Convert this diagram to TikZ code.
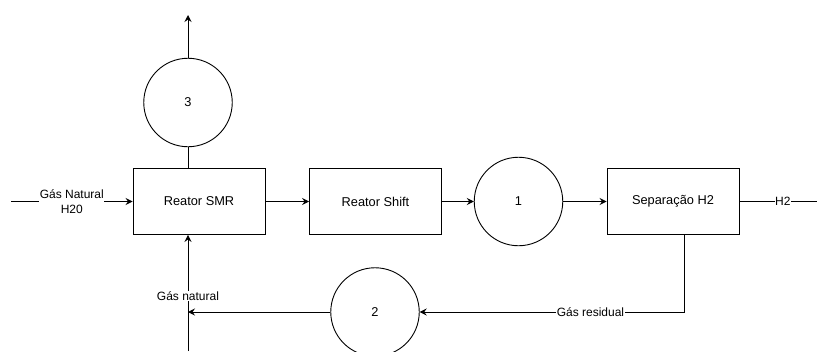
\documentclass[tikz,border=0pt]{standalone}
\usepackage{fontspec}
\setmainfont{Liberation Sans}
\usetikzlibrary{arrows.meta}
\begin{document}
\begin{tikzpicture}[x=1pt,y=-1pt,line width=0.9pt,
  box/.style={draw, minimum width=132pt, minimum height=66pt, inner sep=0pt, font=\fontsize{12.8}{15}\selectfont},
  unit/.style={draw, circle, minimum size=88.5pt, inner sep=0pt, font=\fontsize{12.8}{15}\selectfont},
  lbl/.style={fill=white, inner sep=0.5pt, align=center, font=\fontsize{12}{15}\selectfont},
  arr/.style={-{Stealth[length=7pt,width=7pt,inset=2.5pt]}}]
\useasboundingbox (0,0) rectangle (817,351);
\node[box] (smr) at (199,201.5) {Reator SMR};
\node[box] (shift) at (375.5,201.5) {Reator Shift};
\node[unit] (c1) at (518.5,201.5) {1};
\node[box] (sep) at (673,201.5) {Separação H2};
\node[unit] (c2) at (375,312) {2};
\node[unit] (c3) at (188,102.5) {3};
\coordinate (inL) at (11,201.5);
\coordinate (outR) at (817,201.5);
\coordinate (top) at (188,15);
\coordinate (bot) at (188,351);
\coordinate (join) at (188,312);
\coordinate (corner) at (684,312);
\draw[arr] (inL) -- node[lbl]{Gás Natural\\H20} (smr.west);
\draw[arr] (smr) -- (shift);
\draw[arr] (shift) -- (c1);
\draw[arr] (c1) -- (sep);
\draw (sep.east) -- node[lbl,pos=0.56]{H2} (outR);
\draw (c3.south) -- (c3.south |- smr.north);
\draw[arr] (c3.north) -- (top);
\draw[arr] (sep.south -| corner) -- (corner) -- node[lbl,pos=0.354]{Gás residual} (c2.east);
\draw[arr] (c2.west) -- (join);
\draw[arr] (bot) -- node[lbl,pos=0.47]{Gás natural} (smr.south -| bot);
\end{tikzpicture}
\end{document}
